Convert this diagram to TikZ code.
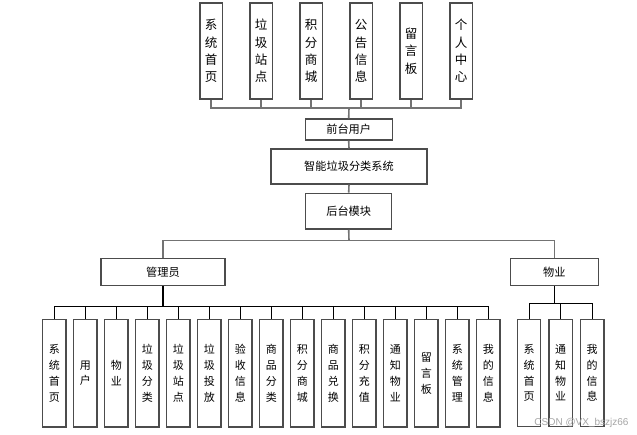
\documentclass[tikz,border=0pt]{standalone}
\usepackage{fontspec}
\setmainfont{Liberation Sans}
\newfontfamily\cjk{Noto Sans CJK SC}
\begin{document}
\begin{tikzpicture}[x=1pt,y=-1pt,
  box/.style={draw=black!70,line width=1.4pt,fill=white,inner sep=0pt,align=center},
  topbox/.style={box,minimum width=22.4pt,minimum height=96pt,font={\cjk\fontsize{12.5}{17.3}\selectfont}},
  midbox/.style={box,font={\cjk\fontsize{11.2}{13}\selectfont}},
  leafbox/.style={box,minimum width=23.4pt,minimum height=107.5pt,font={\cjk\fontsize{11}{15.8}\selectfont}},
  grayline/.style={draw=black!55,line width=1.6pt},
  blackline/.style={draw=black,line width=1pt}]
\fill[white] (0,0) rectangle (637,434);
\useasboundingbox (0,0) rectangle (637,434);
% top boxes
\foreach \t [count=\i from 0] in {系\\统\\首\\页,垃\\圾\\站\\点,积\\分\\商\\城,公\\告\\信\\息,留\\言\\板,个\\人\\中\\心}{
  \node[topbox] (t\i) at ({211+50*\i},51) {\t};
}
\coordinate (tbus) at (349,108);
\foreach \i in {0,...,5}{\draw[grayline] (t\i.south) |- (tbus);}
% middle
\node[midbox,minimum width=87pt,minimum height=21pt] (qt) at (348.7,129.5) {前台用户};
\node[midbox,minimum width=155.7pt,minimum height=35pt] (zn) at (349,166.5) {智能垃圾分类系统};
\node[midbox,minimum width=86pt,minimum height=35.7pt] (ht) at (348.7,211.2) {后台模块};
\draw[grayline] (tbus) -- (qt.north);
\draw[grayline] (qt.south) -- (zn.north);
\draw[grayline] (zn.south) -- (ht.north);
\coordinate (hbus) at (349,240.5);
\node[midbox,minimum width=124pt,minimum height=27.4pt] (gl) at (163,272) {管理员};
\node[midbox,minimum width=88pt,minimum height=27.4pt] (wy) at (554.3,272) {物业};
\draw[grayline] (ht.south) -- (hbus);
\draw[grayline] (hbus) -| (gl.north);
\draw[grayline] (hbus) -| (wy.north);
% admin leaves
\coordinate (gbus) at (163,306.7);
\foreach \t [count=\i from 0] in {系\\统\\首\\页,用\\户,物\\业,垃\\圾\\分\\类,垃\\圾\\站\\点,垃\\圾\\投\\放,验\\收\\信\\息,商\\品\\分\\类,积\\分\\商\\城,商\\品\\兑\\换,积\\分\\充\\值,通\\知\\物\\业,留\\言\\板,系\\统\\管\\理,我\\的\\信\\息}{
  \node[leafbox] (a\i) at ({54.4+31*\i},373.3) {\t};
  \draw[blackline] (a\i.north) |- (gbus);
}
\draw[blackline,line width=1.6pt] (gl.south) -- (gbus);
% property leaves
\coordinate (wbus) at (554.3,303.3);
\foreach \t/\x [count=\i from 0] in {系\\统\\首\\页/529,通\\知\\物\\业/560.7,我\\的\\信\\息/592.2}{
  \node[leafbox] (b\i) at (\x,373) {\t};
  \draw[blackline] (b\i.north) |- (wbus);
}
\draw[blackline,line width=1.4pt] (wy.south) -- (wbus);
% watermark
\node[text=black!35,font=\fontsize{10}{12}\selectfont,inner sep=0pt] (wm) at (581.5,422.5) {CSDN @VX\_bszjz66};
\end{tikzpicture}
\end{document}
